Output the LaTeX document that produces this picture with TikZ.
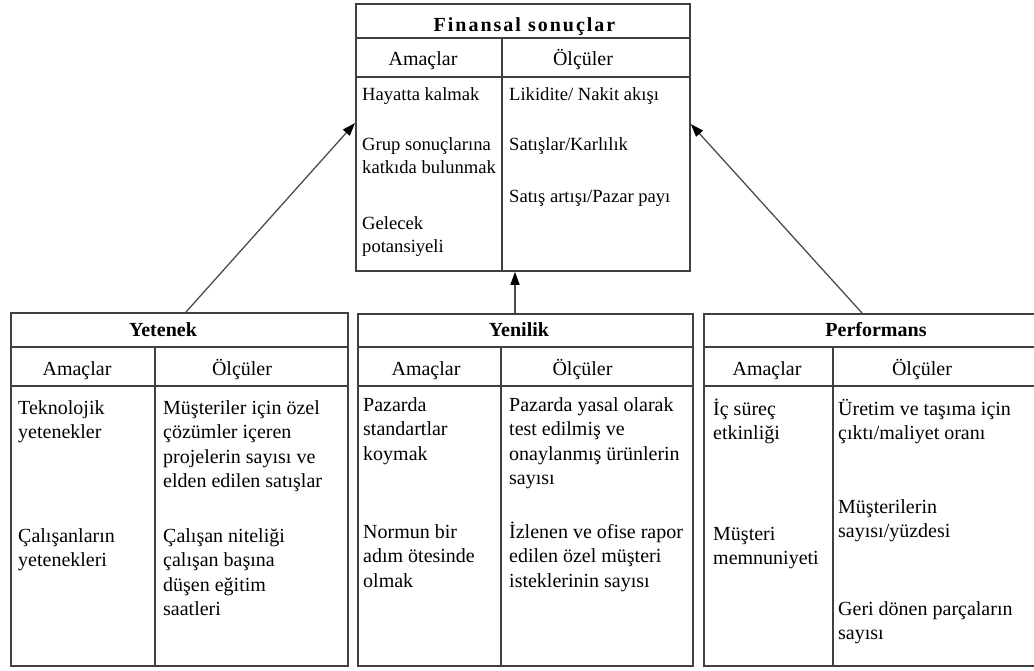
\documentclass[tikz,border=0pt]{standalone}
\usepackage{fontspec}
\setmainfont{Liberation Serif}
\usetikzlibrary{arrows.meta}
% stacked lines, aligned on the baseline of the first line
\newcommand\lns[1]{\begin{tabular}[t]{@{}l@{}}#1\end{tabular}}
\tikzset{
  panel/.style={draw=black!75, line width=1.8pt, line join=miter, inner sep=0pt, anchor=north west},
  rule/.style={draw=black!75, line width=1.8pt},
  ttl/.style={font=\fontsize{20}{24}\selectfont\bfseries, anchor=base, inner sep=0pt},
  hdr/.style={font=\fontsize{20}{24}\selectfont, anchor=base, inner sep=0pt},
  body/.style={font=\fontsize{20}{24.5}\selectfont, anchor=base west, inner sep=0pt},
  tbody/.style={font=\fontsize{18.6}{23.5}\selectfont, anchor=base west, inner sep=0pt},
  arr/.style={draw=black!70, line width=1.3pt, -{Triangle[length=13pt,width=9pt,color=black]}},
}
\begin{document}
\begin{tikzpicture}[x=1pt, y=-1pt]
\useasboundingbox (0,0) rectangle (1034,670);
\clip (0,0) rectangle (1034,670);

% ---------- Finansal sonuclar ----------
\node[panel, minimum width=334pt, minimum height=267pt] (fin) at (355,3) {};
\draw[rule] (fin.west |- 0,38) -- (fin.east |- 0,38);
\draw[rule] (fin.west |- 0,77) -- (fin.east |- 0,77);
\draw[rule] (502,38) -- (fin.south -| 502,0);
\node[ttl] (fin-t) at (524.5,31) {\addfontfeature{LetterSpace=10}Finansal sonuçlar};
\node[hdr] (fin-h1) at (423,65) {Amaçlar};
\node[hdr] (fin-h2) at (583,65) {Ölçüler};
\node[tbody] (fin-a1) at (362,100) {Hayatta kalmak};
\node[tbody] (fin-a2) at (362,150) {\lns{Grup sonuçlarına\\katkıda bulunmak}};
\node[tbody] (fin-a3) at (362,229) {\lns{Gelecek\\potansiyeli}};
\node[tbody] (fin-o1) at (509,100) {Likidite/ Nakit akışı};
\node[tbody] (fin-o2) at (509,150) {Satışlar/Karlılık};
\node[tbody] (fin-o3) at (509,202) {Satış artışı/Pazar payı};

% ---------- Yetenek ----------
\node[panel, minimum width=337pt, minimum height=353pt] (yet) at (10,312) {};
\draw[rule] (yet.west |- 0,347) -- (yet.east |- 0,347);
\draw[rule] (yet.west |- 0,386) -- (yet.east |- 0,386);
\draw[rule] (155,347) -- (yet.south -| 155,0);
\node[ttl] (yet-t) at (163,336) {Yetenek};
\node[hdr] (yet-h1) at (77,375) {Amaçlar};
\node[hdr] (yet-h2) at (242,375) {Ölçüler};
\node[body] (yet-a1) at (18,414) {\lns{Teknolojik\\yetenekler}};
\node[body] (yet-a2) at (18,542) {\lns{Çalışanların\\yetenekleri}};
\node[body] (yet-o1) at (163,414) {\lns{Müşteriler için özel\\çözümler içeren\\projelerin sayısı ve\\elden edilen satışlar}};
\node[body] (yet-o2) at (163,542) {\lns{Çalışan niteliği\\çalışan başına\\düşen eğitim\\saatleri}};

% ---------- Yenilik ----------
\node[panel, minimum width=335pt, minimum height=352pt] (yen) at (357,313) {};
\draw[rule] (yen.west |- 0,347) -- (yen.east |- 0,347);
\draw[rule] (yen.west |- 0,386) -- (yen.east |- 0,386);
\draw[rule] (501,347) -- (yen.south -| 501,0);
\node[ttl] (yen-t) at (519,336) {Yenilik};
\node[hdr] (yen-h1) at (426,375) {Amaçlar};
\node[hdr] (yen-h2) at (582.5,375) {Ölçüler};
\node[body] (yen-a1) at (363,411) {\lns{Pazarda\\standartlar\\koymak}};
\node[body] (yen-a2) at (363,538) {\lns{Normun bir\\adım ötesinde\\olmak}};
\node[body] (yen-o1) at (509,411) {\lns{Pazarda yasal olarak\\test edilmiş ve\\onaylanmış ürünlerin\\sayısı}};
\node[body] (yen-o2) at (509,538) {\lns{İzlenen ve ofise rapor\\edilen özel müşteri\\isteklerinin sayısı}};

% ---------- Performans ----------
\node[panel, minimum width=342pt, minimum height=352pt] (perf) at (703,313) {};
\draw[rule] (perf.west |- 0,347) -- (perf.east |- 0,347);
\draw[rule] (perf.west |- 0,386) -- (perf.east |- 0,386);
\draw[rule] (833,347) -- (perf.south -| 833,0);
\node[ttl] (perf-t) at (876,336) {Performans};
\node[hdr] (perf-h1) at (767,375) {Amaçlar};
\node[hdr] (perf-h2) at (922,375) {Ölçüler};
\node[body] (perf-a1) at (713,415) {\lns{İç süreç\\etkinliği}};
\node[body] (perf-a2) at (713,540) {\lns{Müşteri\\memnuniyeti}};
\node[body] (perf-o1) at (838,415) {\lns{Üretim ve taşıma için\\çıktı/maliyet oranı}};
\node[body] (perf-o2) at (838,513) {\lns{Müşterilerin\\sayısı/yüzdesi}};
\node[body] (perf-o3) at (838,615) {\lns{Geri dönen parçaların\\sayısı}};

% ---------- connectors ----------
\draw[arr] (yet.north -| 186,0) -- (fin.west |- 0,123);
\draw[arr] (yen.north -| 515,0) -- (fin.south -| 515,0);
\draw[arr] (perf.north -| 862,0) -- (fin.east |- 0,124);
\end{tikzpicture}
\end{document}
